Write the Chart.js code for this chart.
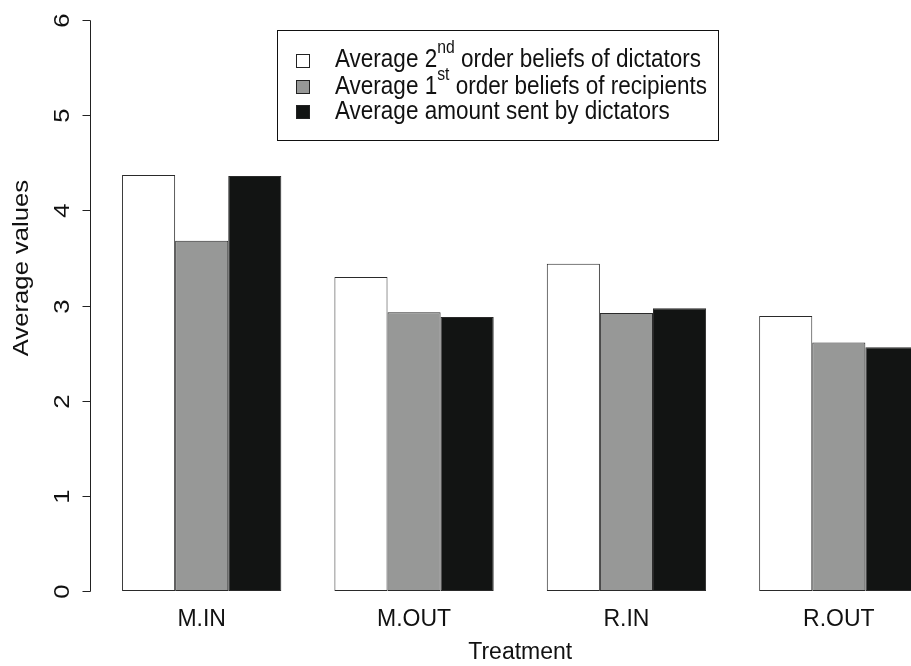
<!DOCTYPE html>
<html><head><meta charset="utf-8">
<script src="https://cdn.jsdelivr.net/npm/chart.js@4/dist/chart.umd.min.js"></script>
<style>
html,body{margin:0;padding:0;overflow:hidden;background:#fff;width:911px;height:666px;}
#wrap{position:relative;width:945px;height:666px;}
canvas{display:block;}
</style></head><body>
<div id="wrap"><canvas id="c" width="945" height="666"></canvas></div>
<script>
// ---- data ----
const categories = ['M.IN', 'M.OUT', 'R.IN', 'R.OUT'];
const secondOrderBeliefsDictators = [4.37, 3.30, 3.44, 2.89];
const firstOrderBeliefsRecipients = [3.68, 2.93, 2.92, 2.61];
const amountSentDictators = [4.36, 2.88, 2.97, 2.56];
const seriesColors = ['#ffffff', '#979897', '#121413'];
const legendLabels = [
  [['Average 2', ''], ['nd', 'sup'], [' order beliefs of dictators', '']],
  [['Average 1', ''], ['st', 'sup'], [' order beliefs of recipients', '']],
  [['Average amount sent by dictators', '']]
];
const yTicks = [0, 1, 2, 3, 4, 5, 6];
const xTitle = 'Treatment';
const yTitle = 'Average values';

const FONT = '"Liberation Sans", Arial, Helvetica, sans-serif';
const FS = 22.5;      // nominal font size
const VS = 1.14;      // vertical stretch of the reference text

function stretchedText(ctx, txt, x, y, size, align, baseline, rot) {
  ctx.save();
  ctx.translate(x, y);
  if (rot) { ctx.rotate(rot); ctx.scale(VS, 1); } else { ctx.scale(1, VS); }
  ctx.font = size + 'px ' + FONT;
  ctx.textAlign = align; ctx.textBaseline = baseline;
  ctx.fillText(txt, 0, 0);
  ctx.restore();
}

const axisPlugin = {
  id: 'rAxis',
  afterDraw(chart) {
    const ctx = chart.ctx, ys = chart.scales.y;
    const xL = Math.round(chart.chartArea.left - 5.5) + 0.5;
    ctx.save();
    ctx.strokeStyle = '#222'; ctx.lineWidth = 1; ctx.fillStyle = '#111';
    const y0 = Math.round(ys.getPixelForValue(yTicks[0])) + 0.5;
    const y1 = Math.round(ys.getPixelForValue(yTicks[yTicks.length - 1])) + 0.5;
    ctx.beginPath(); ctx.moveTo(xL, y0); ctx.lineTo(xL, y1); ctx.stroke();
    yTicks.forEach(v => {
      const py = Math.round(ys.getPixelForValue(v)) + 0.5;
      ctx.beginPath(); ctx.moveTo(xL - 8, py); ctx.lineTo(xL, py); ctx.stroke();
      stretchedText(ctx, String(v), xL - 28, py, FS, 'center', 'middle', -Math.PI / 2);
    });
    stretchedText(ctx, yTitle, 22, 268, FS, 'center', 'middle', -Math.PI / 2);
    ctx.restore();
  }
};

const legendPlugin = {
  id: 'rLegend',
  afterDraw(chart) {
    const ctx = chart.ctx;
    ctx.save();
    ctx.strokeStyle = '#111'; ctx.lineWidth = 1;
    ctx.strokeRect(277.5, 30.5, 441, 110);
    const rows = [60, 86.5, 111.5];
    chart.data.datasets.forEach((ds, i) => {
      const cy = rows[i];
      ctx.fillStyle = ds.backgroundColor;
      ctx.fillRect(296.5, Math.round(cy - 6.5) + 0.5, 13, 13);
      ctx.strokeStyle = '#222';
      ctx.strokeRect(296.5, Math.round(cy - 6.5) + 0.5, 13, 13);
      ctx.fillStyle = '#111';
      let x = 335;
      legendLabels[i].forEach(([t, kind]) => {
        const size = kind === 'sup' ? FS * 0.7 : FS;
        const yy = kind === 'sup' ? cy - FS * 0.45 * VS : cy;
        ctx.font = size + 'px ' + FONT;
        stretchedText(ctx, t, x, yy, size, 'left', 'middle', 0);
        x += ctx.measureText(t).width;
      });
    });
    ctx.restore();
  }
};

new Chart(document.getElementById('c'), {
  type: 'bar',
  data: {
    labels: categories,
    datasets: [
      { label: 'Average 2nd order beliefs of dictators', data: secondOrderBeliefsDictators, backgroundColor: seriesColors[0] },
      { label: 'Average 1st order beliefs of recipients', data: firstOrderBeliefsRecipients, backgroundColor: seriesColors[1] },
      { label: 'Average amount sent by dictators', data: amountSentDictators, backgroundColor: seriesColors[2] }
    ]
  },
  options: {
    responsive: false,
    animation: false,
    devicePixelRatio: 1,
    layout: { padding: { left: 95.5, top: 20, right: 0, bottom: 0 } },
    datasets: { bar: { categoryPercentage: 0.75, barPercentage: 1, borderColor: '#2a2a2a', borderWidth: 1, borderSkipped: false } },
    plugins: { legend: { display: false }, tooltip: { enabled: false } },
    scales: {
      x: {
        grid: { display: false, drawTicks: false },
        border: { display: false },
        ticks: { color: '#111', font: { family: FONT, size: 23 }, padding: 15 },
        title: { display: true, text: xTitle, color: '#111', font: { family: FONT, size: 23 }, padding: { top: 0, bottom: 0 } },
        afterFit(s) { s.height = 75; }
      },
      y: { display: false, min: 0, max: 6, ticks: { stepSize: 1 } }
    }
  },
  plugins: [axisPlugin, legendPlugin]
});
</script>
</body></html>
